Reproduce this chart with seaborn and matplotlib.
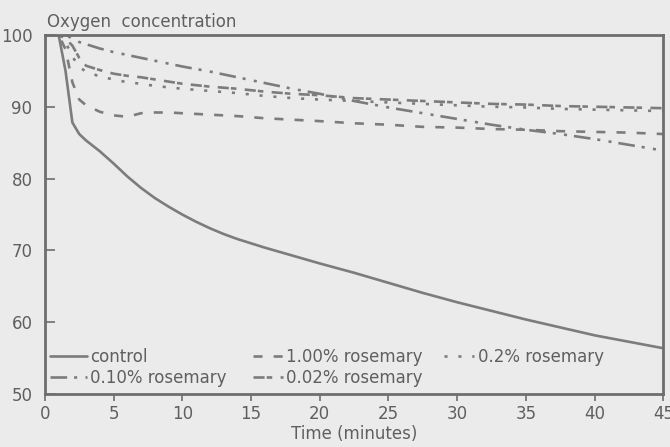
import matplotlib
matplotlib.use("Agg")
import matplotlib.pyplot as plt
import seaborn as sns
import pandas as pd

# ---------------------------------------------------------------------------
# data (oxygen concentration vs time)
time_min = [0, 1, 1.5, 2, 2.5, 3, 4, 5, 6, 7, 8, 9, 10, 11, 12, 13, 14, 16,
            18, 20, 22.5, 25, 27.5, 30, 32.5, 35, 37.5, 40, 42.5, 45]

control = [100, 100, 95, 87.8, 86.2, 85.3, 83.8, 82.1, 80.3, 78.7, 77.3, 76.1,
           75.0, 74.0, 73.1, 72.3, 71.6, 70.4, 69.3, 68.2, 66.9, 65.5, 64.1,
           62.8, 61.6, 60.4, 59.3, 58.2, 57.3, 56.4]
rosemary_100 = [100, 100, 98, 93.4, 91, 90.2, 89.3, 88.8, 88.6, 89.1, 89.2,
                89.2, 89.1, 89.0, 88.9, 88.8, 88.7, 88.4, 88.2, 88, 87.7, 87.5,
                87.2, 87.1, 86.9, 86.8, 86.6, 86.5, 86.4, 86.2]
rosemary_020 = [100, 100, 99, 97, 95.5, 94.9, 94.2, 93.8, 93.4, 93.2, 92.9,
                92.7, 92.5, 92.35, 92.2, 92.05, 91.9, 91.5, 91.2, 91, 90.8,
                90.6, 90.4, 90.2, 90, 89.9, 89.7, 89.6, 89.5, 89.4]
rosemary_010 = [100, 100, 100, 99.5, 99, 98.7, 98.1, 97.6, 97.2, 96.8, 96.4,
                96.0, 95.6, 95.25, 94.9, 94.5, 94.1, 93.3, 92.5, 91.8, 90.8,
                89.9, 89.1, 88.3, 87.5, 86.8, 86.2, 85.5, 84.7, 83.9]
rosemary_002 = [100, 100, 99.5, 98.5, 96.8, 95.7, 95.1, 94.6, 94.3, 94.1, 93.8,
                93.5, 93.2, 93.0, 92.8, 92.65, 92.5, 92.1, 91.8, 91.6, 91.2,
                91.0, 90.8, 90.6, 90.4, 90.3, 90.1, 90.0, 89.9, 89.8]

series_labels = ["control", "1.00% rosemary", "0.2% rosemary",
                 "0.10% rosemary", "0.02% rosemary"]
series_values = [control, rosemary_100, rosemary_020, rosemary_010, rosemary_002]

# ---------------------------------------------------------------------------
paper = "#ebebeb"
ink = "#7c7c7c"
text_col = "#5f5f5f"

sns.set_theme(style="white")
plt.rcParams["font.family"] = ["DejaVu Sans"]
plt.rcParams["lines.scale_dashes"] = False

# dash patterns in points
styles = {
    "control": "-",
    "1.00% rosemary": (0, (6.5, 8)),
    "0.2% rosemary": (0, (2.2, 7.8)),
    "0.10% rosemary": (0, (12, 5, 2.2, 6, 2.2, 5)),
    "0.02% rosemary": (0, (8, 1.5, 4, 6)),
}

frames = []
for lab, vals in zip(series_labels, series_values):
    frames.append(pd.DataFrame({"time": time_min, "oxygen": vals, "sample": lab}))
df = pd.concat(frames, ignore_index=True)

fig = plt.figure(figsize=(6.7, 4.47), dpi=100, facecolor=paper)
ax = fig.add_axes([0.067, 0.118, 0.923, 0.804], facecolor=paper)

for lab in series_labels:
    sub = df[df["sample"] == lab]
    sns.lineplot(data=sub, x="time", y="oxygen", ax=ax, color=ink, lw=1.9,
                 linestyle=styles[lab], label=lab, dash_capstyle="butt")

ax.set_xlim(0, 45)
ax.set_ylim(50, 100)
ax.set_xticks(range(0, 46, 5))
ax.set_yticks(range(50, 101, 10))

for sp in ax.spines.values():
    sp.set_visible(True)
    sp.set_color("#6e6e6e")
    sp.set_linewidth(2.0)

ax.tick_params(axis="y", direction="in", length=7, width=1.2, color="#6e6e6e",
               labelsize=12, labelcolor=text_col, pad=9, left=True)
ax.tick_params(axis="x", direction="out", length=5, width=1.2, color="#6e6e6e",
               labelsize=12, labelcolor=text_col, pad=3, bottom=True)

ax.set_xlabel("Time (minutes)", fontsize=12, color=text_col, labelpad=1)
ax.set_ylabel("")
ax.text(0.003, 1.012, "Oxygen  concentration", transform=ax.transAxes,
        fontsize=12, color=text_col, ha="left", va="bottom")

# legend: three separate columns placed like the original
handles, labels = ax.get_legend_handles_labels()
ax.get_legend().remove()
lookup = dict(zip(labels, handles))
columns = [
    (["control", "0.10% rosemary"], 0.008, 2.2),
    (["1.00% rosemary", "0.02% rosemary"], 0.336, 1.8),
    (["0.2% rosemary"], 0.646, 1.8),
]
legs = []
for names, x0, hl in columns:
    leg = ax.legend([lookup[n] for n in names], names, loc="upper left",
                    bbox_to_anchor=(x0, 0.13), frameon=False, fontsize=12,
                    handlelength=hl, handletextpad=0.2, labelspacing=0.2,
                    borderaxespad=0, borderpad=0)
    for t in leg.get_texts():
        t.set_color(text_col)
    legs.append(leg)
for leg in legs[:-1]:
    ax.add_artist(leg)

fig.savefig("out.png", dpi=100, facecolor=paper)
